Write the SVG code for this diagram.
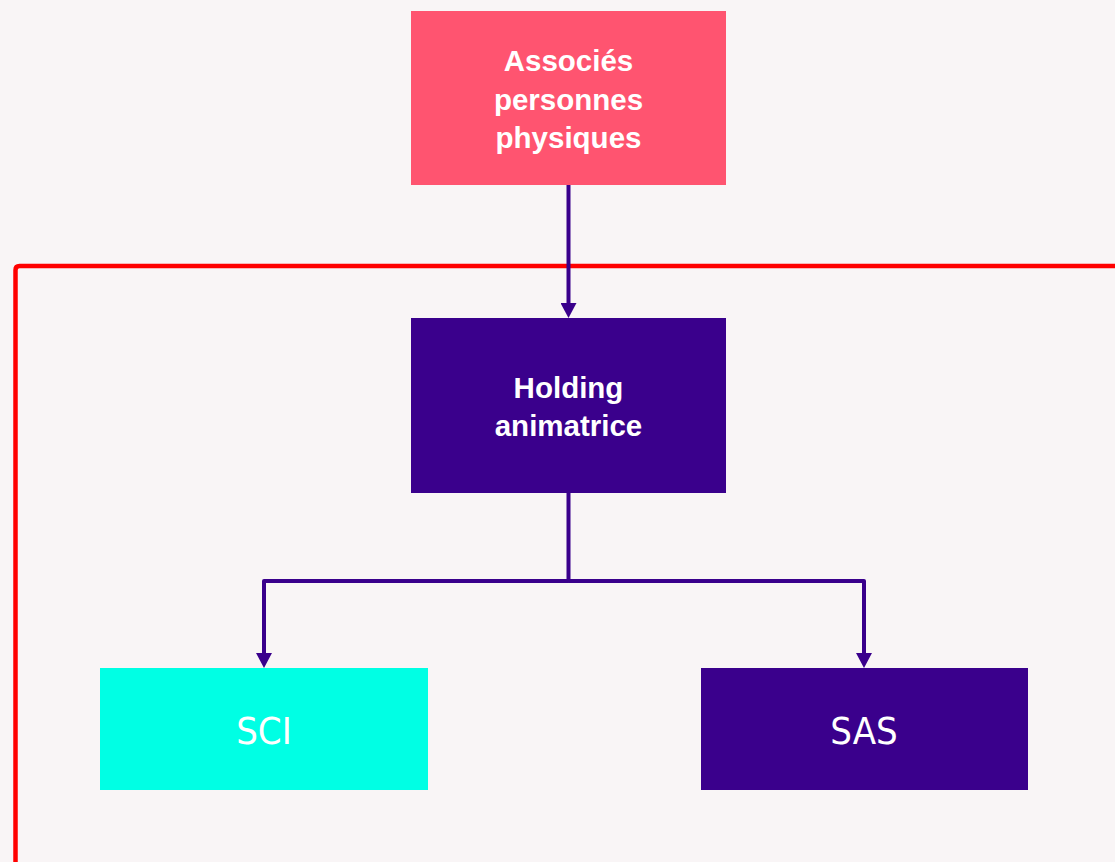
<svg xmlns="http://www.w3.org/2000/svg" width="1115" height="862" viewBox="0 0 1115 862">
<style>
.bg{fill:#F9F5F6}
.lbl{fill:#FFFFFF;text-anchor:middle}
.b{font-family:"Liberation Sans",Arial,sans-serif;font-weight:bold;font-size:29.5px}
.r{font-family:"DejaVu Sans Condensed","DejaVu Sans",sans-serif;font-stretch:condensed;font-size:38px}
.conn{fill:none;stroke:#3A008C;stroke-width:4;stroke-linejoin:round}
.frame{fill:none;stroke:#FF0000;stroke-width:4.5;stroke-linejoin:round}
</style>
<defs>
<marker id="arr" viewBox="0 0 15 16" refX="0" refY="8" markerWidth="15" markerHeight="16" markerUnits="userSpaceOnUse" orient="auto">
<path d="M0 0 L15 8 L0 16 Z" fill="#3A008C"/>
</marker>
</defs>
<rect class="bg" x="0" y="0" width="1115" height="862"/>
<path class="frame" d="M15.5 870 V270 Q15.5 266 19.5 266 H1120"/>
<g id="connectors">
<path class="conn" d="M568.5 185 V303" marker-end="url(#arr)"/>
<path class="conn" d="M568.5 493 V581 H264 V653" marker-end="url(#arr)"/>
<path class="conn" d="M568.5 581 H864 V653" marker-end="url(#arr)"/>
</g>
<g id="associes">
<rect x="411" y="11" width="315" height="174" fill="#FF5470"/>
<text class="lbl b" x="568.5" y="71">Associés</text>
<text class="lbl b" x="568.5" y="110">personnes</text>
<text class="lbl b" x="568.5" y="148">physiques</text>
</g>
<g id="holding">
<rect x="411" y="318" width="315" height="175" fill="#3A008C"/>
<text class="lbl b" x="568.5" y="398">Holding</text>
<text class="lbl b" x="568.5" y="436">animatrice</text>
</g>
<g id="sci">
<rect x="100" y="668" width="328" height="122" fill="#00FFE4"/>
<text class="lbl r" x="264" y="744">SCI</text>
</g>
<g id="sas">
<rect x="701" y="668" width="327" height="122" fill="#3A008C"/>
<text class="lbl r" x="864" y="744">SAS</text>
</g>
</svg>
